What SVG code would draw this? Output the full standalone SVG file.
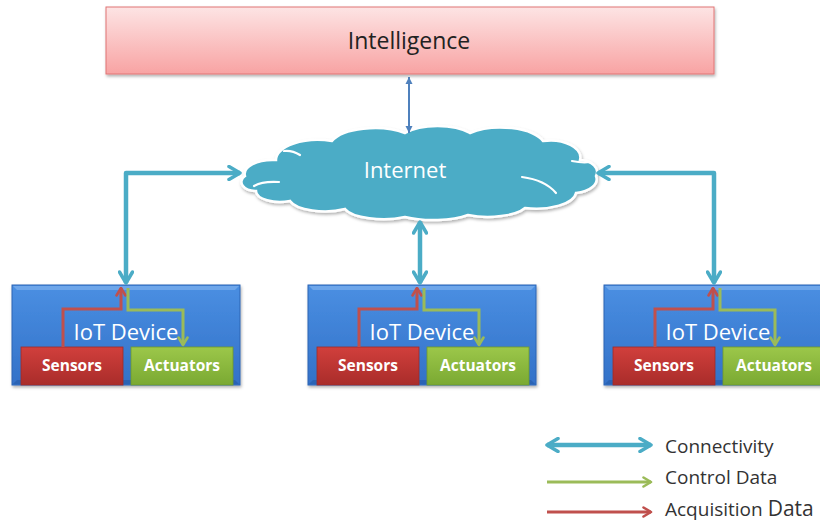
<svg xmlns="http://www.w3.org/2000/svg" width="820" height="522" viewBox="0 0 820 522">
  <defs>
    <linearGradient id="gIntel" x1="0" y1="0" x2="0" y2="1">
      <stop offset="0" stop-color="#fde4e4"/>
      <stop offset="1" stop-color="#f8a3a3"/>
    </linearGradient>
    <linearGradient id="gDevice" x1="0" y1="0" x2="0" y2="1">
      <stop offset="0" stop-color="#4a8fe2"/>
      <stop offset="1" stop-color="#3371c8"/>
    </linearGradient>
    <linearGradient id="gSensor" x1="0" y1="0" x2="0" y2="1">
      <stop offset="0" stop-color="#d13f3c"/>
      <stop offset="1" stop-color="#a92c2a"/>
    </linearGradient>
    <linearGradient id="gAct" x1="0" y1="0" x2="0" y2="1">
      <stop offset="0" stop-color="#9cc74a"/>
      <stop offset="1" stop-color="#7aa932"/>
    </linearGradient>
    <filter id="shadow" x="-10%" y="-10%" width="120%" height="130%">
      <feDropShadow dx="1" dy="2" stdDeviation="1.5" flood-color="#000" flood-opacity="0.3"/>
    </filter>
    <marker id="cyanHead" viewBox="0 0 16 16" refX="14" refY="8" markerWidth="16" markerHeight="16" markerUnits="userSpaceOnUse" orient="auto-start-reverse">
      <path d="M3,1.5 L14,8 L3,14.5" fill="none" stroke="#4bacc6" stroke-width="3.5" stroke-linecap="round" stroke-linejoin="round"/>
    </marker>
    <marker id="redHead" viewBox="0 0 12 12" refX="10.5" refY="6" markerWidth="12" markerHeight="12" markerUnits="userSpaceOnUse" orient="auto">
      <path d="M3,1.5 L10.5,6 L3,10.5" fill="none" stroke="#c0504d" stroke-width="2.6" stroke-linecap="round" stroke-linejoin="round"/>
    </marker>
    <marker id="greenHead" viewBox="0 0 12 12" refX="10.5" refY="6" markerWidth="12" markerHeight="12" markerUnits="userSpaceOnUse" orient="auto">
      <path d="M3,1.5 L10.5,6 L3,10.5" fill="none" stroke="#9bbb59" stroke-width="2.6" stroke-linecap="round" stroke-linejoin="round"/>
    </marker>
    <marker id="blueHead" viewBox="0 0 8 8" refX="7" refY="4" markerWidth="8" markerHeight="8" markerUnits="userSpaceOnUse" orient="auto-start-reverse">
      <path d="M0,0.5 L7,4 L0,7.5 Z" fill="#4f81bd"/>
    </marker>
    <g id="device">
      <rect x="0" y="0" width="228" height="100" fill="url(#gDevice)" stroke="#2c64b4" stroke-width="1" filter="url(#shadow)"/>
      <path d="M1,1 L227,1 L223,5 L5,5 Z" fill="#7fb0ee" opacity="0.7"/>
      <path d="M1,99 L227,99 L223,95 L5,95 Z" fill="#245aa6" opacity="0.6"/>
      <text class="dev" x="114" y="55">IoT Device</text>
      <rect x="9" y="62" width="102" height="38" fill="url(#gSensor)" stroke="#9e2b29" stroke-width="0.8"/>
      <text class="box" x="60" y="86">Sensors</text>
      <rect x="119" y="62" width="102" height="38" fill="url(#gAct)" stroke="#6f9a2c" stroke-width="0.8"/>
      <text class="box" x="170" y="86">Actuators</text>
      <!-- acquisition path: sensors up to the uplink -->
      <path d="M51,62 L51,24 L109,24 L109,3" fill="none" stroke="#c0504d" stroke-width="3" marker-end="url(#redHead)"/>
      <!-- control path: uplink down to the actuators -->
      <path d="M116,3 L116,25 L171,25 L171,60" fill="none" stroke="#9bbb59" stroke-width="3" marker-end="url(#greenHead)"/>
    </g>
  </defs>
  <style>
    text { font-family: "Open Sans", Lato, "Liberation Sans", sans-serif; }
    .title { font-size: 23px; fill: #222; text-anchor: middle; }
    .cloudtxt { font-size: 22px; fill: #ffffff; text-anchor: middle; }
    .dev { font-size: 22px; fill: #ffffff; text-anchor: middle; }
    .box { font-size: 15.5px; font-weight: bold; fill: #ffffff; text-anchor: middle; }
    .legend { font-size: 19px; fill: #333; }
    .cyan { fill: none; stroke: #4bacc6; stroke-width: 4.5; stroke-linejoin: round; }
  </style>

  <rect width="820" height="522" fill="#ffffff"/>

  <g id="intelligence">
    <rect x="106" y="7" width="608" height="67" fill="url(#gIntel)" stroke="#e07474" stroke-width="1" filter="url(#shadow)"/>
    <text class="title" x="409" y="49">Intelligence</text>
  </g>

  <g id="internet">
    <path d="M245,176 A28,14 0 0 1 276,160 A42,20 0 0 1 332,141 A45,19 0 0 1 405,133 A40,17 0 0 1 470,133 A44,19 0 0 1 543,141 A30,17 0 0 1 580,160 A18,12 0 0 1 596,176 A24,14 0 0 1 576,193 A40,17 0 0 1 525,208 A40,14 0 0 1 468,215 A45,14 0 0 1 405,217 A40,14 0 0 1 345,209 A36,14 0 0 1 290,201 A24,11 0 0 1 256,191 A14,9 0 0 1 245,176 Z" fill="#4bacc6" stroke="#ffffff" stroke-width="2.5" filter="url(#shadow)"/>
    <g fill="none" stroke="#ffffff" stroke-width="2.2" stroke-linecap="round">
      <path d="M279,182 Q262,181 254,186"/>
      <path d="M522,177 Q545,180 556,193"/>
      <path d="M572,161 Q582,163 590,162"/>
      <path d="M300,155 Q292,150 284,151"/>
    </g>
    <text class="cloudtxt" x="405" y="178">Internet</text>
  </g>

  <g id="device1">
    <use href="#device" x="12" y="285"/>
  </g>
  <g id="device2">
    <use href="#device" x="308" y="285"/>
  </g>
  <g id="device3">
    <use href="#device" x="604" y="285"/>
  </g>

  <g id="connectors">
    <line x1="409" y1="77" x2="409" y2="133" stroke="#4f81bd" stroke-width="2" marker-start="url(#blueHead)" marker-end="url(#blueHead)"/>
    <path class="cyan" d="M126,283 L126,173 L240,173" marker-start="url(#cyanHead)" marker-end="url(#cyanHead)"/>
    <line class="cyan" x1="420" y1="222" x2="420" y2="283" marker-start="url(#cyanHead)" marker-end="url(#cyanHead)"/>
    <path class="cyan" d="M598,173 L714,173 L714,283" marker-start="url(#cyanHead)" marker-end="url(#cyanHead)"/>
  </g>

  <g id="legend">
    <line class="cyan" x1="547" y1="445" x2="651" y2="445" marker-start="url(#cyanHead)" marker-end="url(#cyanHead)"/>
    <line x1="547" y1="482" x2="651" y2="482" stroke="#9bbb59" stroke-width="3" marker-end="url(#greenHead)"/>
    <line x1="547" y1="512" x2="651" y2="512" stroke="#c0504d" stroke-width="3" marker-end="url(#redHead)"/>
    <text class="legend" x="665" y="453">Connectivity</text>
    <text class="legend" x="665" y="484">Control Data</text>
    <text class="legend" x="665" y="516">Acquisition <tspan font-size="21px">Data</tspan></text>
  </g>
</svg>
